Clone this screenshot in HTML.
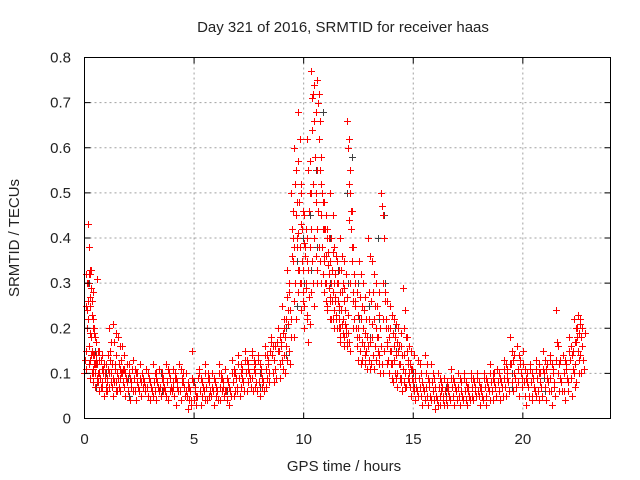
<!DOCTYPE html>
<html><head><meta charset="utf-8"><style>
body{margin:0;background:#fff;}
svg{display:block;font-family:"Liberation Sans",sans-serif;}
</style></head><body>
<svg id="chart" width="640" height="480" xmlns="http://www.w3.org/2000/svg">
<rect width="640" height="480" fill="#fff"/>
<text x="343" y="32" font-size="15" text-anchor="middle" fill="#222">Day 321 of 2016, SRMTID for receiver haas</text>
<text x="344" y="471" font-size="15" text-anchor="middle" fill="#222">GPS time / hours</text>
<text x="19" y="238" font-size="15" text-anchor="middle" fill="#222" transform="rotate(-90 19 238)">SRMTID / TECUs</text>
<g id="grid"></g>
<g id="black"></g>
<g id="red"></g>
<rect x="84.5" y="57.5" width="526" height="361" fill="none" stroke="#000" stroke-width="1"/>
<g id="ticks"></g>
</svg>
<script>
const xTicks=[0,5,10,15,20];
const yTicks=[0,0.1,0.2,0.3,0.4,0.5,0.6,0.7,0.8];
const yTickLabels=["0","0.1","0.2","0.3","0.4","0.5","0.6","0.7","0.8"];
const redTimes=[0.05,0.15,0.25,0.35,0.45,0.6,0.8,1.0,1.2,1.4,1.6,1.8,2.0,2.3,2.6,2.9,3.2,3.5,3.8,4.1,4.4,4.7,5.0,5.3,5.6,5.9,6.2,6.5,6.8,7.1,7.4,7.7,8.0,8.3,8.6,8.9,9.1,9.3,9.5,9.65,9.8,9.95,10.1,10.25,10.4,10.55,10.7,10.85,11.0,11.15,11.3,11.45,11.6,11.75,11.9,12.05,12.2,12.4,12.6,12.8,13.0,13.2,13.4,13.6,13.8,14.0,14.2,14.4,14.6,14.8,15.0,15.3,15.6,15.9,16.2,16.5,16.8,17.1,17.4,17.7,18.0,18.3,18.6,18.9,19.2,19.5,19.8,20.1,20.4,20.7,21.0,21.3,21.6,21.9,22.2,22.4,22.6];
const redValues=[
[0.1,0.13,0.25,0.32,0.2],[0.15,0.3,0.22,0.12,0.09],[0.43,0.38,0.32,0.18,0.1],[0.25,0.33,0.15,0.08,0.12],[0.2,0.1,0.14,0.07,0.17],
[0.12,0.08,0.15,0.1,0.06],[0.09,0.13,0.07,0.11,0.05],[0.1,0.06,0.12,0.08,0.14],[0.2,0.15,0.1,0.07,0.05],[0.21,0.17,0.12,0.08,0.06],
[0.18,0.12,0.09,0.06,0.1],[0.16,0.11,0.07,0.05,0.09],[0.12,0.08,0.06,0.1,0.04],[0.13,0.09,0.06,0.04,0.1],[0.12,0.08,0.05,0.1,0.07],
[0.11,0.07,0.05,0.09,0.04],[0.12,0.08,0.06,0.1,0.04],[0.11,0.07,0.05,0.09,0.06],[0.12,0.08,0.04,0.1,0.06],[0.11,0.07,0.05,0.09,0.03],
[0.12,0.06,0.04,0.08,0.1],[0.1,0.05,0.02,0.07,0.04],[0.15,0.08,0.04,0.06,0.03],[0.11,0.06,0.03,0.08,0.05],[0.12,0.07,0.04,0.09,0.05],
[0.1,0.06,0.03,0.08,0.05],[0.12,0.07,0.04,0.09,0.06],[0.11,0.06,0.04,0.08,0.03],[0.13,0.08,0.05,0.1,0.06],[0.14,0.09,0.05,0.07,0.11],
[0.15,0.1,0.06,0.08,0.12],[0.15,0.09,0.06,0.11,0.07],[0.13,0.08,0.05,0.1,0.07],[0.16,0.11,0.07,0.09,0.13],[0.18,0.14,0.1,0.08,0.16],
[0.2,0.15,0.12,0.09,0.17],[0.25,0.19,0.14,0.1,0.22],[0.33,0.27,0.21,0.15,0.12],[0.5,0.42,0.35,0.26,0.18],[0.6,0.52,0.45,0.38,0.28],
[0.68,0.57,0.48,0.38,0.3],[0.5,0.42,0.33,0.26,0.2],[0.45,0.38,0.3,0.22,0.17],[0.62,0.55,0.46,0.38,0.28],[0.77,0.71,0.64,0.52,0.4],
[0.74,0.58,0.5,0.42,0.33],[0.75,0.7,0.62,0.55,0.45],[0.52,0.45,0.38,0.32,0.28],[0.48,0.42,0.36,0.3,0.25],[0.42,0.37,0.32,0.27,0.22],
[0.5,0.4,0.33,0.28,0.24],[0.38,0.32,0.27,0.23,0.2],[0.35,0.3,0.25,0.2,0.17],[0.4,0.33,0.28,0.22,0.18],[0.35,0.29,0.24,0.2,0.16],
[0.66,0.6,0.52,0.44,0.3],[0.5,0.42,0.35,0.28,0.22],[0.3,0.25,0.2,0.16,0.13],[0.35,0.27,0.22,0.17,0.13],[0.3,0.24,0.19,0.15,0.11],
[0.4,0.28,0.22,0.17,0.12],[0.35,0.28,0.22,0.16,0.13],[0.3,0.25,0.18,0.14,0.1],[0.5,0.47,0.3,0.22,0.15],[0.28,0.22,0.17,0.13,0.1],
[0.25,0.2,0.15,0.12,0.08],[0.22,0.18,0.14,0.1,0.07],[0.2,0.16,0.12,0.09,0.06],[0.29,0.2,0.14,0.1,0.07],[0.18,0.13,0.1,0.07,0.05],
[0.15,0.11,0.08,0.06,0.04],[0.13,0.09,0.07,0.05,0.03],[0.14,0.1,0.07,0.05,0.03],[0.12,0.08,0.06,0.04,0.02],[0.1,0.07,0.05,0.03,0.06],
[0.09,0.06,0.04,0.03,0.07],[0.11,0.07,0.05,0.03,0.08],[0.1,0.07,0.05,0.03,0.06],[0.09,0.06,0.04,0.03,0.07],[0.1,0.07,0.05,0.04,0.08],
[0.09,0.06,0.05,0.03,0.07],[0.1,0.07,0.05,0.03,0.08],[0.12,0.08,0.06,0.04,0.1],[0.11,0.08,0.06,0.04,0.09],[0.13,0.09,0.07,0.05,0.11],
[0.18,0.12,0.08,0.06,0.14],[0.16,0.11,0.08,0.05,0.13],[0.12,0.08,0.05,0.03,0.1],[0.11,0.08,0.05,0.04,0.09],[0.13,0.09,0.06,0.04,0.1],
[0.15,0.1,0.07,0.04,0.12],[0.13,0.09,0.06,0.03,0.11],[0.24,0.17,0.1,0.06,0.13],[0.14,0.1,0.06,0.04,0.12],[0.18,0.13,0.09,0.05,0.15],
[0.22,0.17,0.12,0.08,0.2],[0.23,0.19,0.14,0.1,0.2]];
const redValuesB=[
[0.11,0.24,0.3,0.16,0.27,0.13],[0.26,0.32,0.19,0.14,0.23,0.11],[0.33,0.29,0.26,0.14,0.2,0.12],[0.28,0.22,0.19,0.1,0.14,0.31],[0.18,0.13,0.09,0.12,0.08,0.15],
[0.1,0.13,0.09,0.07,0.11,0.14],[0.08,0.1,0.12,0.09,0.07,0.06],[0.09,0.11,0.07,0.1,0.13,0.08],[0.17,0.12,0.09,0.08,0.11,0.06],[0.19,0.14,0.1,0.09,0.07,0.11],
[0.16,0.13,0.1,0.08,0.07,0.11],[0.14,0.1,0.09,0.08,0.06,0.12],[0.1,0.09,0.08,0.07,0.11,0.06],[0.11,0.1,0.08,0.07,0.06,0.09],[0.1,0.09,0.08,0.07,0.06,0.11],
[0.1,0.09,0.08,0.07,0.06,0.05],[0.1,0.09,0.08,0.07,0.06,0.11],[0.1,0.09,0.08,0.07,0.06,0.05],[0.11,0.1,0.09,0.07,0.06,0.08],[0.1,0.09,0.08,0.07,0.06,0.12],
[0.11,0.09,0.08,0.07,0.05,0.06],[0.08,0.07,0.06,0.04,0.03,0.09],[0.07,0.06,0.05,0.05,0.09,0.1],[0.09,0.08,0.07,0.06,0.04,0.1],[0.1,0.09,0.08,0.06,0.05,0.07],
[0.09,0.08,0.07,0.06,0.04,0.1],[0.1,0.09,0.08,0.07,0.05,0.06],[0.09,0.08,0.07,0.06,0.05,0.1],[0.11,0.1,0.09,0.07,0.06,0.12],[0.12,0.1,0.09,0.08,0.06,0.13],
[0.13,0.11,0.1,0.09,0.07,0.14],[0.13,0.12,0.1,0.08,0.06,0.14],[0.12,0.11,0.09,0.08,0.06,0.14],[0.14,0.12,0.1,0.08,0.15,0.17],[0.16,0.13,0.11,0.09,0.17,0.15],
[0.18,0.16,0.13,0.11,0.14,0.2],[0.22,0.18,0.16,0.13,0.24,0.28],[0.3,0.24,0.18,0.22,0.36,0.4],[0.46,0.38,0.3,0.22,0.4,0.33],[0.55,0.48,0.41,0.33,0.3,0.24],
[0.62,0.52,0.43,0.35,0.28,0.25],[0.46,0.39,0.36,0.29,0.23,0.4],[0.42,0.35,0.33,0.27,0.21,0.5],[0.57,0.5,0.42,0.35,0.3,0.25],[0.72,0.66,0.58,0.48,0.36,0.3],
[0.68,0.55,0.46,0.38,0.35,0.3],[0.72,0.66,0.58,0.5,0.42,0.36],[0.48,0.42,0.35,0.3,0.26,0.24],[0.45,0.4,0.34,0.29,0.26,0.22],[0.4,0.35,0.3,0.26,0.22,0.2],
[0.45,0.37,0.3,0.26,0.22,0.2],[0.36,0.3,0.26,0.22,0.2,0.18],[0.33,0.28,0.24,0.21,0.19,0.16],[0.36,0.3,0.26,0.21,0.19,0.17],[0.32,0.27,0.23,0.19,0.17,0.15],
[0.62,0.55,0.46,0.38,0.26,0.2],[0.46,0.38,0.32,0.26,0.2,0.18],[0.28,0.23,0.2,0.18,0.15,0.12],[0.32,0.25,0.2,0.16,0.14,0.12],[0.27,0.22,0.18,0.16,0.13,0.11],
[0.36,0.26,0.21,0.18,0.14,0.11],[0.32,0.25,0.2,0.18,0.15,0.12],[0.28,0.23,0.2,0.16,0.12,0.1],[0.45,0.4,0.26,0.2,0.16,0.12],[0.26,0.2,0.18,0.15,0.12,0.09],
[0.23,0.19,0.16,0.13,0.1,0.09],[0.21,0.17,0.15,0.12,0.09,0.08],[0.19,0.16,0.14,0.11,0.08,0.07],[0.24,0.18,0.15,0.12,0.09,0.08],[0.16,0.12,0.11,0.09,0.07,0.06],
[0.14,0.1,0.09,0.07,0.06,0.05],[0.12,0.1,0.08,0.07,0.06,0.04],[0.12,0.09,0.08,0.07,0.05,0.04],[0.1,0.09,0.07,0.05,0.04,0.03],[0.09,0.08,0.07,0.05,0.04,0.03],
[0.08,0.07,0.06,0.05,0.04,0.09],[0.09,0.08,0.07,0.06,0.04,0.1],[0.09,0.08,0.06,0.05,0.04,0.1],[0.08,0.07,0.06,0.05,0.04,0.09],[0.09,0.08,0.07,0.06,0.05,0.1],
[0.08,0.07,0.06,0.05,0.04,0.09],[0.09,0.08,0.07,0.06,0.04,0.1],[0.1,0.09,0.08,0.07,0.05,0.11],[0.1,0.09,0.08,0.07,0.05,0.11],[0.12,0.1,0.09,0.08,0.06,0.12],
[0.15,0.13,0.1,0.09,0.07,0.16],[0.14,0.12,0.1,0.09,0.07,0.15],[0.11,0.09,0.08,0.07,0.05,0.12],[0.1,0.09,0.07,0.06,0.05,0.11],[0.12,0.1,0.08,0.07,0.05,0.11],
[0.13,0.11,0.09,0.08,0.06,0.14],[0.12,0.1,0.08,0.07,0.05,0.13],[0.16,0.12,0.09,0.08,0.06,0.14],[0.13,0.11,0.09,0.08,0.06,0.15],[0.16,0.14,0.11,0.1,0.07,0.17],
[0.2,0.18,0.15,0.13,0.1,0.22],[0.21,0.18,0.16,0.13,0.11,0.19]];
const blackTimes=[0.2,0.5,1.0,2.0,3.5,5.0,6.5,8.0,9.2,9.7,10.0,10.3,10.6,10.9,11.2,11.6,12.0,12.2,12.5,13.0,13.4,13.7,14.2,15.0,16.5,18.0,19.5,21.0,22.3];
const blackValues=[
[0.3,0.12],[0.15,0.07],[0.1,0.08],[0.09,0.05],[0.1,0.06],[0.08,0.04],[0.09,0.06],[0.1,0.07],[0.2,0.14],[0.35,0.25],
[0.4,0.3],[0.45,0.33],[0.55,0.38],[0.68,0.35],[0.4,0.3],[0.33,0.24],[0.5,0.3],[0.58,0.35],[0.3,0.22],[0.25,0.18],
[0.4,0.22],[0.45,0.3],[0.2,0.15],[0.1,0.07],[0.07,0.05],[0.08,0.05],[0.1,0.07],[0.09,0.06],[0.15,0.1]];

const X0=84.5,X1=610.5,Y0=418.5,Y1=57.5,XMAX=24,YMAX=0.8;
const xs=v=>X0+(X1-X0)*v/XMAX;
const ys=v=>Y0-(Y0-Y1)*v/YMAX;
const NS="http://www.w3.org/2000/svg";
const grid=document.getElementById('grid'),ticks=document.getElementById('ticks');
function mk(tag,attrs,parent){const e=document.createElementNS(NS,tag);for(const k in attrs)e.setAttribute(k,attrs[k]);parent.appendChild(e);return e;}
xTicks.forEach(t=>{
  const x=xs(t);
  if(t>0){const g=mk('line',{x1:x,x2:x,y1:Y1,y2:Y0,stroke:'#a0a0a0','stroke-dasharray':'2,3'},grid);
  
  }
  const tk=mk('path',{d:`M${x},${Y0}v-6M${x},${Y1}v6`,stroke:'#000'},ticks);
  
  
  const l=mk('text',{x:x,y:444,'font-size':15,'text-anchor':'middle',fill:'#222'},ticks);l.textContent=t;
  
  
});
yTicks.forEach((t,i)=>{
  const y=ys(t);
  if(i>0&&i<yTicks.length-1){const g=mk('line',{x1:X0,x2:X1,y1:y,y2:y,stroke:'#a0a0a0','stroke-dasharray':'2,3'},grid);
  
  }
  const tk=mk('path',{d:`M${X0},${y}h6M${X1},${y}h-6`,stroke:'#000'},ticks);
  
  
  const l=mk('text',{x:71,y:y+5,'font-size':15,'text-anchor':'end',fill:'#222'},ticks);l.textContent=yTickLabels[i];
  
  
});
function plot(times,vals,color,parentId,name,spread,shift){
  const p=document.getElementById(parentId);let d='';
  times.forEach((t,i)=>{
    const n=vals[i].length;
    vals[i].forEach((v,j)=>{
      const x=Math.round(xs(t+shift+(j-(n-1)/2)*spread))+0.5,y=Math.round(ys(v))+0.5;
      d+=`M${x-3.5},${y}h7M${x},${y-3.5}v7`;
    });
  });
  const e=mk('path',{d:d,stroke:color,'stroke-width':1,fill:'none'},p);
  
  
}
plot(blackTimes,blackValues,'#404040','black','black-points',0.03,0);
plot(redTimes,redValues,'#ff0000','red','red-points',0.04,0);
plot(redTimes,redValuesB,'#ff0000','red','red-points-extra',0.04,0.12);
</script>
</body></html>
